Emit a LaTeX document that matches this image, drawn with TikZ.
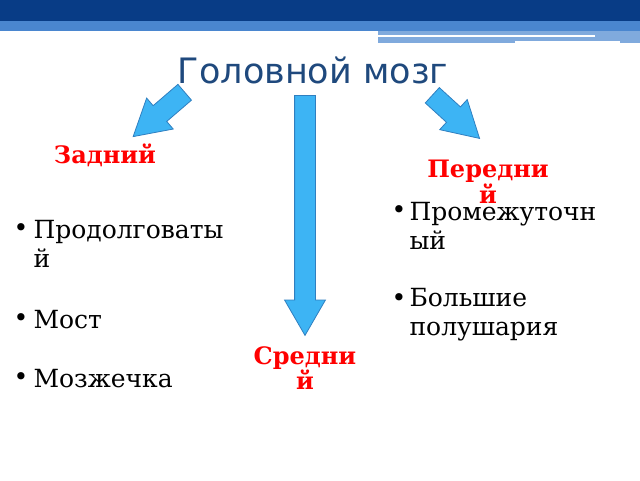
\documentclass[tikz,border=0pt]{standalone}
\usepackage{fontspec}
\setmainfont{DejaVu Serif}
\newfontfamily\titlefont{DejaVu Sans}
\usetikzlibrary{shapes.arrows}
\definecolor{bandblue}{HTML}{083C86}
\definecolor{stripeblue}{HTML}{4A86CF}
\definecolor{arrowfill}{HTML}{3DB4F4}
\definecolor{arrowline}{HTML}{2F7FC0}
\definecolor{titleblue}{HTML}{1F497D}
\tikzset{
  bigarrow/.style={single arrow, draw=arrowline, fill=arrowfill, thick,
    inner sep=10pt, single arrow head extend=10pt, single arrow tip angle=60,
    anchor=tail},
  partlabel/.style={text=red, font=\bfseries\fontsize{24}{24}\selectfont, align=center},
  itemtext/.style={anchor=west, font=\fontsize{25}{29}\selectfont, align=left},
  bulletdot/.style={anchor=west, font=\fontsize{25}{29}\selectfont}
}
\begin{document}
\begin{tikzpicture}[x=1pt,y=-1pt]
  \useasboundingbox (0,0) rectangle (640,480);
  % header band
  \fill[bandblue] (0,0) rectangle (640,21);
  \fill[stripeblue] (0,21) rectangle (640,31);
  \fill[stripeblue!70] (378,31) rectangle (640,43);
  \fill[white] (378,35) rectangle (595,37);
  \fill[white] (515,41) rectangle (620,43);

  \node[font=\titlefont\fontsize{35}{40}\selectfont, text=titleblue] (title) at (313,70) {Головной мозг};

  % arrows
  \node[bigarrow, minimum height=68pt, rotate=220.7] (back_arrow) at (185,92) {};
  \node[bigarrow, minimum height=240pt, rotate=-90] (mid_arrow) at (305,95) {};
  \node[bigarrow, minimum height=64pt, rotate=-42.4] (front_arrow) at (432,95) {};

  % labels
  \node[partlabel] (back) at (105,155) {Задний};
  \node[partlabel] (front) at (488,182) {Передни\\й};
  \node[partlabel] (mid) at (305,368) {Средни\\й};

  % left list
  \foreach \y/\t in {244/{Продолговаты\\й}, 320/Мост, 379/Мозжечка} {
    \node[itemtext] at (30,\y) {\t};
  }
  \foreach \y in {230,320,379} \node[bulletdot] at (10,\y) {•};

  % right list
  \foreach \y/\t in {226/{Промежуточн\\ый}, 315/{Большие\\полушария}} {
    \node[itemtext] at (406,\y) {\t};
  }
  \foreach \y in {212,300} \node[bulletdot] at (388,\y) {•};
\end{tikzpicture}
\end{document}
